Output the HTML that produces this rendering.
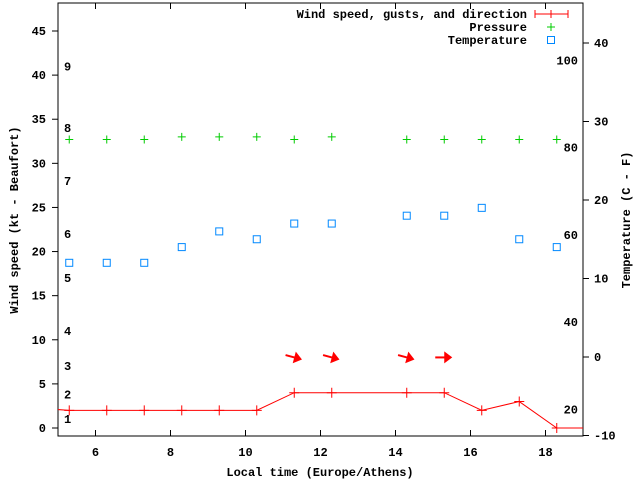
<!DOCTYPE html>
<html><head><meta charset="utf-8"><style>
body{margin:0;background:#fff}
svg text{font-family:"Liberation Mono",monospace;font-weight:bold;font-size:12px;fill:#000}
</style></head><body>
<svg id="c" width="640" height="480" xmlns="http://www.w3.org/2000/svg"></svg>
<script>
const hours=[4.3,5.3,6.3,7.3,8.3,9.3,10.3,11.3,12.3,14.3,15.3,16.3,17.3,18.3,19.3];
const wind=[2.3,2,2,2,2,2,2,4,4,4,4,2,3,0,0];
const markHours=[5.3,6.3,7.3,8.3,9.3,10.3,11.3,12.3,14.3,15.3,16.3,17.3,18.3];
const pressure=[32.7,32.7,32.7,33,33,33,32.7,33,32.7,32.7,32.7,32.7,32.7];
const tempC=[12,12,12,14,16,15,17,17,18,18,19,15,14];
const arrowHours=[11.3,12.3,14.3,15.3];
const arrowKt=[8,8,8,8];
const arrowTilt=[15,15,15,0];
const xTicks=[6,8,10,12,14,16,18];
const yTicks=[0,5,10,15,20,25,30,35,40,45];
const cTicks=[-10,0,10,20,30,40];
const bft=[[1,1],[2,2],[3,3],[4,4],[5,5],[6,6],[7,7],[8,8],[9,9]];
const bftKt=[1,3.8,7,11,17,22,28,34,41];
const fTicks=[20,40,60,80,100];

const L=58,R=583,T=3,B=436;
const X=h=>L+(h-5)/(19-5)*(R-L);
const Y=k=>428-k*(428-31)/45;
const YC=c=>357-c*7.85;
const YF=f=>YC((f-32)*5/9);
const svg=document.getElementById('c');
const NS='http://www.w3.org/2000/svg';
function mk(tag,at,parent){const e=document.createElementNS(NS,tag);for(const k in at)e.setAttribute(k,at[k]);(parent||svg).appendChild(e);return e;}
function txt(s,x,y,anchor){const t=mk('text',{x:x,y:y,'text-anchor':anchor||'start'});t.textContent=s;return t;}

let e=mk('rect',{x:L,y:T,width:R-L,height:B-T,fill:'none',stroke:'#000'});

xTicks.forEach(v=>{mk('line',{x1:X(v),x2:X(v),y1:B,y2:B-6,stroke:'#000'});mk('line',{x1:X(v),x2:X(v),y1:T,y2:T+6,stroke:'#000'});
 const t=txt(v,X(v),456,'middle');});
yTicks.forEach(v=>{mk('line',{x1:L-6,x2:L,y1:Y(v),y2:Y(v),stroke:'#000'});
 const t=txt(v,46,Y(v)+4,'end');});
cTicks.forEach(v=>{mk('line',{x1:R,x2:R+6,y1:YC(v),y2:YC(v),stroke:'#000'});
 const t=txt(v,594,YC(v)+4);});
bft.forEach((b,i)=>{const t=txt(b[1],64,Y(bftKt[i])+4);});
fTicks.forEach(v=>{const t=txt(v,578,YF(v)+4,'end');});

let t=txt('Local time (Europe/Athens)',320,476,'middle');
t=txt('Wind speed (kt - Beaufort)',0,0,'middle');t.setAttribute('transform','translate(18,220) rotate(-90)');
t=txt('Temperature (C - F)',0,0,'middle');t.setAttribute('transform','translate(630,220) rotate(-90)');

const g=mk('g',{'clip-path':'url(#clp)'});
const cp=mk('clipPath',{id:'clp'});mk('rect',{x:L,y:T,width:R-L,height:B-T},cp);
const wl=mk('polyline',{points:hours.map((h,i)=>X(h)+','+Y(wind[i])).join(' '),fill:'none',stroke:'#f00'},g);

hours.forEach((h,i)=>{const p=mk('path',{d:`M${X(h)-5},${Y(wind[i])}h10M${X(h)},${Y(wind[i])-5}v10`,stroke:'#f00'},g);
 });
markHours.forEach((h,i)=>{const p=mk('path',{d:`M${X(h)-4},${Y(pressure[i])}h8M${X(h)},${Y(pressure[i])-4}v8`,stroke:'#0c0'});
 
 const r=mk('rect',{x:X(h)-3.5,y:YC(tempC[i])-3.5,width:7,height:7,fill:'none',stroke:'#08f'});
 });
arrowHours.forEach((h,i)=>{const a=mk('g',{transform:`translate(${X(h)},${Y(arrowKt[i])}) rotate(${arrowTilt[i]})`});
 
 mk('line',{x1:-9,y1:0,x2:3,y2:0,stroke:'#f00','stroke-width':2},a);
 mk('polygon',{points:'0,-6 8,0 0,6',fill:'#f00'},a);});

// legend
t=txt('Wind speed, gusts, and direction',527,18,'end');
mk('path',{d:'M535,14h33M535,10v8M551,10v8M568,10v8',stroke:'#f00'});
t=txt('Pressure',527,31,'end');
mk('path',{d:'M547,27h8M551,23v8',stroke:'#0c0'});
t=txt('Temperature',527,44,'end');
mk('rect',{x:547.5,y:36.5,width:7,height:7,fill:'none',stroke:'#08f'});
</script>
</body></html>
